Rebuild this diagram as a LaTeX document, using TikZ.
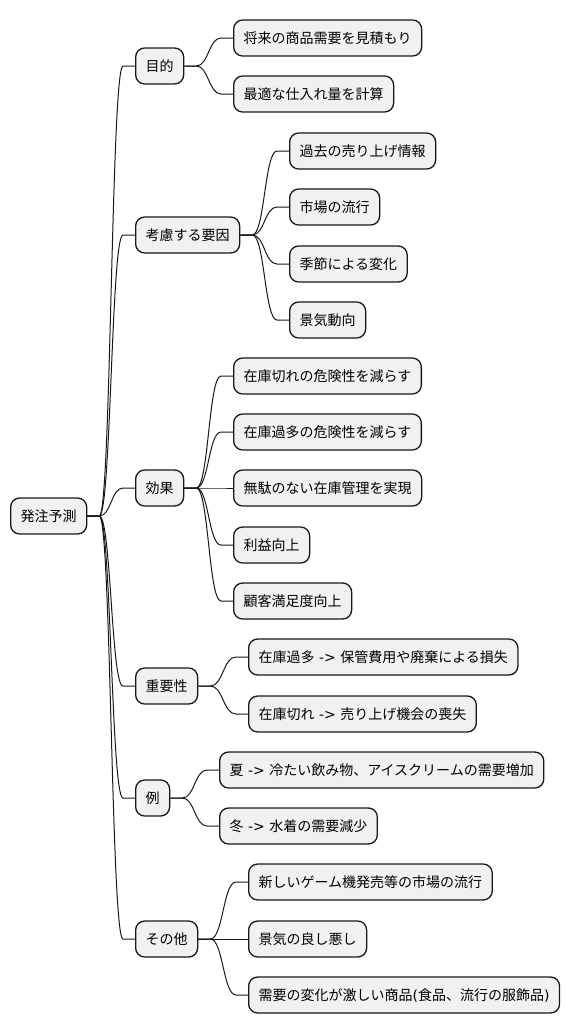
\documentclass[tikz,border=0pt]{standalone}
\usepackage{fontspec}
\setmainfont{Noto Sans CJK JP}
\newfontfamily\latfont{DejaVu Sans}
\newcommand{\lat}[1]{{\latfont #1}}
\usetikzlibrary{calc}
\definecolor{nodefill}{HTML}{F1F1F1}
\definecolor{nodeline}{HTML}{181818}
\tikzset{
  mm/.style={draw=nodeline, fill=nodefill, rounded corners=9pt, line width=1.3pt,
    anchor=west, inner xsep=10pt, inner ysep=0pt, minimum height=36pt,
    text height=12pt, text depth=1.8pt,
    font=\fontsize{14}{16}\selectfont},
  link/.style={draw=nodeline, line width=1pt}
}
\newcommand{\mmconn}[2]{%
  \draw[link] let \p1=(#1.east), \p2=(#2.west) in
    (\p1) -- (\x1+12pt,\y1)
    .. controls (0.5*\x1+0.5*\x2,\y1) and (0.5*\x1+0.5*\x2,\y2) ..
    (\x2-12pt,\y2) -- (\p2);}
\begin{document}
\begin{tikzpicture}[x=1pt,y=-1pt]
\useasboundingbox (0,0) rectangle (569,1034);
\node[mm] (root) at (10,516) {発注予測};
\node[mm] (a) at (135,66) {目的};
\node[mm] (a1) at (233,38) {将来の商品需要を見積もり};
\node[mm] (a2) at (233,94) {最適な仕入れ量を計算};
\node[mm] (b) at (135,235) {考慮する要因};
\node[mm] (b1) at (289,151) {過去の売り上げ情報};
\node[mm] (b2) at (289,207) {市場の流行};
\node[mm] (b3) at (289,264) {季節による変化};
\node[mm] (b4) at (289,320) {景気動向};
\node[mm] (c) at (135,488) {効果};
\node[mm] (c1) at (233,376) {在庫切れの危険性を減らす};
\node[mm] (c2) at (233,432) {在庫過多の危険性を減らす};
\node[mm] (c3) at (233,488) {無駄のない在庫管理を実現};
\node[mm] (c4) at (233,545) {利益向上};
\node[mm] (c5) at (233,601) {顧客満足度向上};
\node[mm] (d) at (135,686) {重要性};
\node[mm] (d1) at (248,657) {在庫過多\lat{ -> }保管費用や廃棄による損失};
\node[mm] (d2) at (248,714) {在庫切れ\lat{ -> }売り上げ機会の喪失};
\node[mm] (e) at (135,798) {例};
\node[mm] (e1) at (219,770) {夏\lat{ -> }冷たい飲み物、アイスクリームの需要増加};
\node[mm] (e2) at (219,826) {冬\lat{ -> }水着の需要減少};
\node[mm] (f) at (135,939) {その他};
\node[mm] (f1) at (248,882) {新しいゲーム機発売等の市場の流行};
\node[mm] (f2) at (248,939) {景気の良し悪し};
\node[mm] (f3) at (248,995) {需要の変化が激しい商品\lat{(}食品、流行の服飾品\lat{)}};
\foreach \c in {a,b,c,d,e,f} {\mmconn{root}{\c}}
\foreach \c in {a1,a2} {\mmconn{a}{\c}}
\foreach \c in {b1,b2,b3,b4} {\mmconn{b}{\c}}
\foreach \c in {c1,c2,c3,c4,c5} {\mmconn{c}{\c}}
\foreach \c in {d1,d2} {\mmconn{d}{\c}}
\foreach \c in {e1,e2} {\mmconn{e}{\c}}
\foreach \c in {f1,f2,f3} {\mmconn{f}{\c}}
\end{tikzpicture}
\end{document}
